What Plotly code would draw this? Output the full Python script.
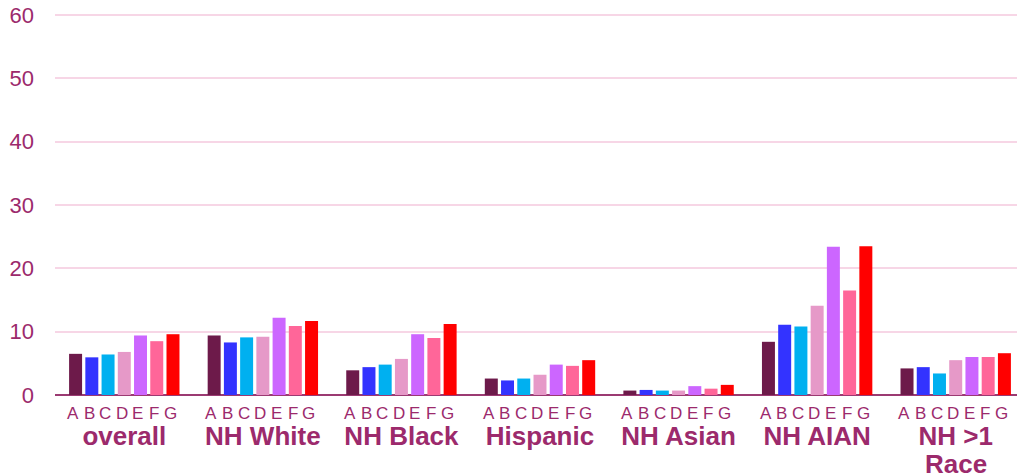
import plotly.graph_objects as go

groups = ["overall", "NH White", "NH Black", "Hispanic", "NH Asian", "NH AIAN", "NH >1 Race"]
group_line1 = ["overall", "NH White", "NH Black", "Hispanic", "NH Asian", "NH AIAN", "NH >1"]
group_line2 = ["", "", "", "", "", "", "Race"]
letters = ["A", "B", "C", "D", "E", "F", "G"]
colors = ["#6d1a4a", "#3333ff", "#00b0f0", "#e699c8", "#cc66ff", "#ff6699", "#ff0000"]

# values[letter] -> one value per group
A = [6.5, 9.4, 3.9, 2.6, 0.7, 8.4, 4.2]
B = [5.95, 8.3, 4.4, 2.3, 0.8, 11.1, 4.4]
C = [6.4, 9.1, 4.8, 2.6, 0.7, 10.8, 3.4]
D = [6.8, 9.2, 5.7, 3.2, 0.7, 14.1, 5.5]
E = [9.4, 12.2, 9.6, 4.8, 1.4, 23.4, 6.0]
F = [8.5, 10.9, 9.0, 4.6, 1.0, 16.5, 6.0]
G = [9.6, 11.7, 11.2, 5.5, 1.6, 23.5, 6.6]
series = [A, B, C, D, E, F, G]

yticks = [0, 10, 20, 30, 40, 50, 60]

text_color = "#9c2a6c"
FONT = "Liberation Sans, Arial"
bargap = 0.18

fig = go.Figure()
for name, vals, col in zip(letters, series, colors):
    fig.add_trace(go.Bar(x=groups, y=vals, name=name, marker_color=col,
                         marker_line_width=0, hoverinfo="skip"))

# letter labels under each bar
n = len(letters)
slot = (1 - bargap) / n
annotations = []
for gi in range(len(groups)):
    for li, L in enumerate(letters):
        xpos = gi - (1 - bargap) / 2 + (li + 0.5) * slot - 0.02
        annotations.append(dict(x=xpos, y=0, xref="x", yref="y", text=L,
                                showarrow=False, yanchor="top", yshift=-7,
                                font=dict(size=17, color=text_color, family=FONT)))
    if group_line2[gi]:
        annotations.append(dict(x=gi, y=0, xref="x", yref="y",
                                text="<b>" + group_line2[gi] + "</b>",
                                showarrow=False, yanchor="top", yshift=-52,
                                font=dict(size=26, color=text_color, family=FONT)))

fig.update_layout(
    width=1017, height=467,
    margin=dict(l=47, r=0, t=5, b=80),
    barmode="group", bargap=bargap, bargroupgap=0.2,
    showlegend=False,
    plot_bgcolor="white", paper_bgcolor="white",
    font=dict(family=FONT, color=text_color),
    annotations=annotations,
    xaxis=dict(showgrid=False, zeroline=False, showline=False, automargin=False,
               tickmode="array", tickvals=groups,
               ticktext=["<b>" + t + "</b>" for t in group_line1],
               tickfont=dict(size=26, color=text_color, family=FONT),
               ticklabelstandoff=23, ticks=""),
    yaxis=dict(range=[0, 60.33], tickvals=yticks, showgrid=True, automargin=False,
               gridcolor="#f7d6e6", gridwidth=2, ticklabeloverflow="allow",
               zeroline=True, zerolinecolor="#9b3a72", zerolinewidth=2,
               showline=False, ticks="", ticklabelstandoff=20,
               tickfont=dict(size=22, color=text_color, family=FONT)),
)

fig.write_html("out.html")
